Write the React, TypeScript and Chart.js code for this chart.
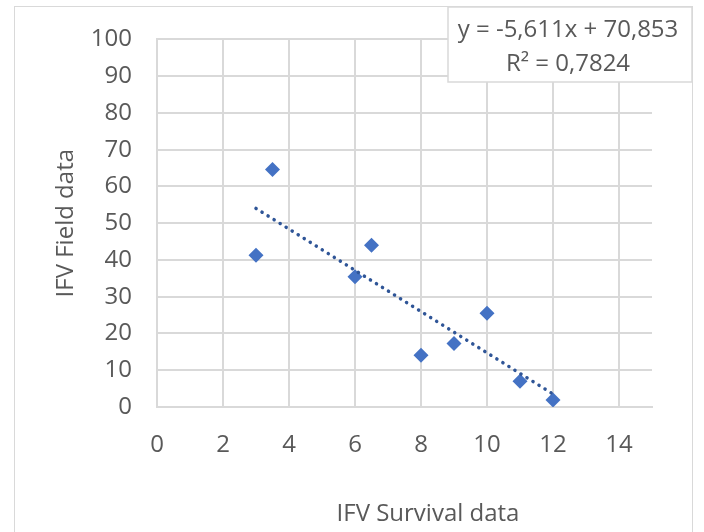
import React, { useEffect, useRef } from "react";
import { Chart, registerables } from "chart.js";

Chart.register(...registerables);

// Data
const survival = [3, 3.5, 6, 6.5, 8, 9, 10, 11, 12];
const field = [41.3, 64.6, 35.4, 44.0, 14.1, 17.3, 25.5, 7.0, 1.9];
const trendSlope = -5.611;
const trendIntercept = 70.853;
const trendRange = [3, 12];
const equationLines = ["y = -5,611x + 70,853", "R² = 0,7824"];
const xTitle = "IFV Survival data";
const yTitle = "IFV Field data";

const FONT = "'Open Sans', 'Noto Sans', sans-serif";
const TEXT = "#595959";
const GRID = "#d9d9d9";

const overlay = {
  id: "overlay",
  afterDraw(chart: any) {
    const ctx = chart.ctx;
    ctx.save();
    // x title
    ctx.fillStyle = TEXT;
    ctx.font = `24px ${FONT}`;
    ctx.textAlign = "center";
    ctx.textBaseline = "middle";
    ctx.fillText(xTitle, 428, 514);
    // equation box
    ctx.fillStyle = "#ffffff";
    ctx.fillRect(448, 7, 244, 75);
    ctx.strokeStyle = GRID;
    ctx.lineWidth = 1.5;
    ctx.strokeRect(448, 7, 244, 75);
    ctx.fillStyle = TEXT;
    ctx.fillText(equationLines[0], 568, 30);
    ctx.fillText(equationLines[1], 568, 64);
    ctx.restore();
  },
};

export default function App() {
  const ref = useRef<HTMLCanvasElement>(null);
  useEffect(() => {
    if (!ref.current) return;
    const points = survival.map((x, i) => ({ x, y: field[i] }));
    const trend = trendRange.map((x) => ({ x, y: trendSlope * x + trendIntercept }));
    const chart = new Chart(ref.current, {
      type: "scatter",
      data: {
        datasets: [
          {
            label: "trend",
            type: "line",
            data: trend,
            borderColor: "#2F5597",
            borderWidth: 3.5,
            borderDash: [0.1, 7],
            borderCapStyle: "round",
            pointRadius: 0,
            fill: false,
          } as any,
          {
            label: "IFV",
            data: points,
            pointStyle: "rectRot",
            pointRadius: 7.5,
            backgroundColor: "#4472C4",
            borderColor: "#4472C4",
            borderWidth: 0,
          },
        ],
      },
      options: {
        responsive: false,
        animation: false,
        layout: { padding: { left: 0, top: 37, right: 52, bottom: 0 } },
        plugins: { legend: { display: false }, tooltip: { enabled: false } },
        scales: {
          x: {
            type: "linear",
            min: 0,
            max: 15,
            afterFit: (s: any) => {
              s.height = 125;
            },
            ticks: {
              stepSize: 2,
              includeBounds: false,
              padding: 24,
              color: TEXT,
              font: { family: FONT, size: 24 },
            },
            grid: { color: GRID, lineWidth: 2, drawTicks: false },
            border: { color: GRID, width: 2 },
            title: { display: false },
          },
          y: {
            type: "linear",
            min: 0,
            max: 100,
            afterFit: (s: any) => {
              s.width = 157;
            },
            ticks: {
              stepSize: 10,
              padding: 25,
              color: TEXT,
              font: { family: FONT, size: 24 },
            },
            grid: { color: GRID, lineWidth: 2, drawTicks: false },
            border: { color: GRID, width: 2 },
            title: {
              display: true,
              text: yTitle,
              color: TEXT,
              font: { family: FONT, size: 24 },
              padding: { top: 52, bottom: 0 },
            },
          },
        },
      },
      plugins: [overlay],
    });
    return () => chart.destroy();
  }, []);

  return (
    <div style={{ position: "fixed", left: 0, top: 0, width: 704, height: 532, background: "#fff", overflow: "hidden" }}>
      <div
        style={{
          position: "absolute",
          left: 14,
          top: 6,
          width: 679,
          height: 600,
          border: `1.5px solid ${GRID}`,
          boxSizing: "border-box",
        }}
      />
      <canvas ref={ref} width={704} height={532} style={{ position: "absolute", left: 0, top: 0, display: "block" }} />
    </div>
  );
}
